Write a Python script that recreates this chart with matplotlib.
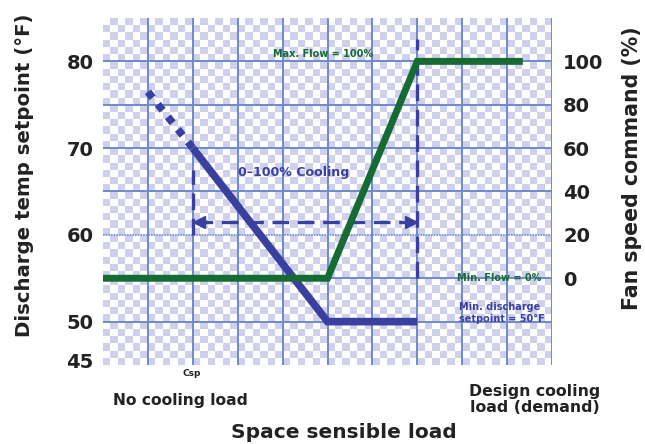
import numpy as np
import matplotlib
matplotlib.use("Agg")
import matplotlib.pyplot as plt
import matplotlib.transforms as mtransforms
from matplotlib.colors import ListedColormap

# ---- data ----
temp_ticks = [45, 50, 60, 70, 80]
fan_ticks = [0, 20, 40, 60, 80, 100]
grid_x = [1, 2, 3, 4, 5, 6, 7, 8, 9, 10]
grid_y_solid = [50, 55, 65, 70, 75, 80]
grid_y_dotted = [60]

x_temp_dot = [1, 2]
temp_dot = [76.5, 70]
x_temp = [2, 5, 7]
temp = [70, 50, 50]

x_fan = [0, 5, 7, 9.35]
fan = [0, 0, 100, 100]

csp_x = 2
design_x = 7

BLUE = "#3a40a0"
GREEN = "#156b32"
GRID = "#6d8acb"
CHECK = "#cfd0ec"
DARK = "#222222"

fig = plt.figure(figsize=(6.45, 4.44), dpi=100)
W, H = 645, 444
ax = fig.add_axes([103 / W, 1 - 365 / H, (552 - 103) / W, (365 - 18) / H])
ax.set_xlim(0, 10)
ax.set_ylim(45, 85)

# checkerboard background
nx, ny = 60, 48
board = (np.add.outer(np.arange(ny), np.arange(nx)) % 2).astype(float)
ax.imshow(board, extent=(0, 10, 45, 85), aspect="auto", interpolation="nearest",
          cmap=ListedColormap(["white", CHECK]), zorder=0)

for gx in grid_x:
    ax.axvline(gx, color=GRID, lw=1.4, zorder=1)
for gy in grid_y_solid:
    ax.axhline(gy, color=GRID, lw=1.4, zorder=1)
for gy in grid_y_dotted:
    ax.axhline(gy, color=GRID, lw=1.2, ls=(0, (1, 0.6)), zorder=1)

for s in ax.spines.values():
    s.set_visible(False)

ax.set_xticks([])
ax.set_yticks(temp_ticks)
ax.set_yticklabels([str(t) for t in temp_ticks], fontsize=14, fontweight="bold", color=DARK)
ax.tick_params(axis="y", length=0, pad=7)
# nudge the bottom "45" label up slightly like the reference
lab45 = ax.get_yticklabels()[0]
lab45.set_transform(lab45.get_transform() +
                    mtransforms.ScaledTranslation(0, 3 / 72, fig.dpi_scale_trans))

# twin axis for fan speed
ax2 = ax.twinx()
ax2.set_ylim((45 - 55) * 4, (85 - 55) * 4)
ax2.set_yticks(fan_ticks)
ax2.set_yticklabels([str(t) for t in fan_ticks], fontsize=14, fontweight="bold", color=DARK)
ax2.tick_params(axis="y", length=0, pad=8)
for s in ax2.spines.values():
    s.set_visible(False)

# dashed guides
ax.plot([design_x, design_x], [55, 82.6], color=BLUE, lw=2.4, ls=(0, (5, 2.6)), zorder=3)
ax.plot([csp_x, csp_x], [60, 67.5], color=BLUE, lw=2.4, ls=(0, (5, 2.6)), zorder=3)
ax.plot([csp_x + 0.08, design_x - 0.08], [61.5, 61.5], color=BLUE, lw=2.4, ls=(0, (5, 2.6)), zorder=3)
ax.plot([csp_x + 0.13], [61.5], marker="<", color=BLUE, ms=8, zorder=3)
ax.plot([design_x - 0.13], [61.5], marker=">", color=BLUE, ms=8, zorder=3)

# temperature setpoint line
ax.plot(x_temp_dot, temp_dot, color=BLUE, lw=5.5, ls=(0, (1, 1.1)), dash_capstyle="butt", zorder=4)
ax.plot(x_temp, temp, color=BLUE, lw=5.5, solid_capstyle="butt", solid_joinstyle="miter", zorder=4)

# fan line (on right axis)
ax2.plot(x_fan, fan, color=GREEN, lw=5, solid_capstyle="butt", solid_joinstyle="miter", zorder=5)

# annotations
ax.text(3.0, 67.2, "0\u2013100% Cooling", color=BLUE, fontsize=9.1, fontweight="bold",
        va="center", ha="left", zorder=6)
ax.text(3.79, 80.9, "Max. Flow = 100%", color=GREEN, fontsize=7, fontweight="bold",
        va="center", ha="left", zorder=6)
ax.text(7.88, 55.0, "Min. Flow = 0%", color=GREEN, fontsize=7, fontweight="bold",
        va="center", ha="left", zorder=6)
ax.text(7.93, 50.95, "Min. discharge\nsetpoint = 50\u00b0F", color=BLUE, fontsize=7,
        fontweight="bold", va="center", ha="left", linespacing=1.25, zorder=6)

# labels outside
fig.text(192 / W, 1 - 373 / H, "Csp", fontsize=6.5, fontweight="bold", color=DARK,
         ha="center", va="center")
fig.text(180 / W, 1 - 400 / H, "No cooling load", fontsize=11.2, fontweight="bold", color=DARK,
         ha="center", va="center")
fig.text(535 / W, 1 - 399.5 / H, "Design cooling\nload (demand)", fontsize=11.3, fontweight="bold",
         color=DARK, ha="center", va="center", linespacing=1.12)
fig.text(344 / W, 1 - 432 / H, "Space sensible load", fontsize=14.5, fontweight="bold", color=DARK,
         ha="center", va="center")
fig.text(25 / W, 1 - 175 / H, "Discharge temp setpoint (\u00b0F)", fontsize=14.2, fontweight="bold",
         color=DARK, ha="center", va="center", rotation=90)
fig.text(632 / W, 1 - 168 / H, "Fan speed command (%)", fontsize=14.8, fontweight="bold",
         color=DARK, ha="center", va="center", rotation=90)

fig.savefig("out.png", dpi=100)
